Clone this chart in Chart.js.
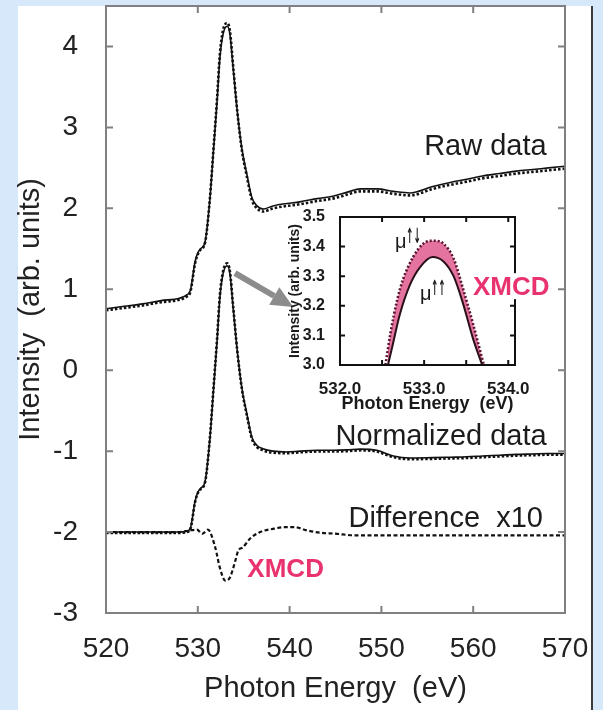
<!DOCTYPE html>
<html>
<head>
<meta charset="utf-8">
<script src="https://cdn.jsdelivr.net/npm/chart.js@4.4.1/dist/chart.umd.min.js"></script>
<style>
  html, body { margin: 0; padding: 0; background: #d6e8fa; }
  #wrap { position: relative; width: 603px; height: 710px; }
  #main { position: absolute; left: 0; top: 0; }
  #inset { position: absolute; left: 285px; top: 198px; }
</style>
</head>
<body>
<div id="wrap">
  <canvas id="main" width="603" height="710"></canvas>
  <canvas id="inset" width="275" height="222"></canvas>
</div>
<script>
/* ---------- data ---------- */
var energy   = [520, 522, 524, 526, 528, 528.8, 529.2, 529.7, 530.0, 530.3, 530.8, 531.3, 531.7, 532.1, 532.4, 532.75,
                533.2, 533.5, 533.85, 534.3, 534.8, 535.35, 535.9, 536.45, 537.1, 538.2, 539.7, 541.1, 543, 544.7,
                546.3, 547.7, 549.5, 551.3, 553.1, 555.6, 557.5, 559.3, 561, 562.9, 564.7, 566.5, 568.2, 570];
var rawUp    = [0.76, 0.79, 0.82, 0.86, 0.89, 0.93, 0.99, 1.34, 1.45, 1.50, 1.59, 2.09, 2.70, 3.32, 3.85, 4.15,
                4.25, 4.15, 3.73, 3.20, 2.74, 2.42, 2.13, 2.03, 1.99, 2.03, 2.06, 2.08, 2.12, 2.15,
                2.20, 2.24, 2.24, 2.21, 2.19, 2.27, 2.32, 2.36, 2.40, 2.43, 2.46, 2.48, 2.50, 2.52];
var rawDown  = [0.74, 0.77, 0.80, 0.84, 0.87, 0.91, 0.97, 1.32, 1.43, 1.49, 1.58, 2.10, 2.72, 3.36, 3.90, 4.20,
                4.29, 4.19, 3.76, 3.20, 2.72, 2.39, 2.10, 2.00, 1.96, 2.00, 2.03, 2.05, 2.09, 2.12,
                2.17, 2.21, 2.21, 2.18, 2.16, 2.24, 2.29, 2.33, 2.37, 2.40, 2.43, 2.45, 2.47, 2.49];
var normUp   = [-2.0, -2.0, -2.0, -2.0, -2.0, -1.99, -1.95, -1.62, -1.51, -1.46, -1.37, -0.87, -0.26, 0.36, 0.89, 1.19,
                1.29, 1.19, 0.77, 0.24, -0.22, -0.54, -0.83, -0.93, -0.97, -1.0, -1.01, -1.0, -0.99, -0.99,
                -0.985, -0.975, -0.99, -1.06, -1.085, -1.08, -1.075, -1.07, -1.06, -1.05, -1.04, -1.035, -1.03, -1.03];
var normDown = [-2.01, -2.01, -2.01, -2.01, -2.01, -2.0, -1.96, -1.63, -1.52, -1.47, -1.38, -0.86, -0.24, 0.39, 0.92, 1.22,
                1.32, 1.22, 0.79, 0.24, -0.23, -0.56, -0.85, -0.95, -0.99, -1.02, -1.025, -1.015, -1.005, -1.005,
                -1.0, -0.99, -1.005, -1.075, -1.10, -1.095, -1.09, -1.085, -1.075, -1.065, -1.055, -1.05, -1.045, -1.045];

var diffEnergy = [520, 524, 528, 529.1, 529.9, 530.5, 531.1, 531.9, 532.4, 533.0, 533.5, 534.1, 534.4, 534.9,
                  535.7, 536.8, 538.2, 539.5, 540.6, 541.9, 543.5, 545, 547, 550, 555, 560, 565, 570];
var diffX10    = [-2.0, -2.0, -2.0, -1.98, -1.97, -2.02, -1.97, -2.19, -2.44, -2.60, -2.56, -2.35, -2.23, -2.19,
                  -2.08, -2.0, -1.96, -1.94, -1.94, -1.98, -2.01, -2.02, -2.04, -2.04, -2.04, -2.04, -2.04, -2.04];

// inset: zoom on the peak, mu(up,down) above mu(up,up)
var insetEnergyAnti = [532.54, 532.60, 532.68, 532.75, 532.87, 532.99, 533.11, 533.23, 533.35, 533.46, 533.58, 533.71];
var insetAnti       = [3.00, 3.108, 3.22, 3.29, 3.365, 3.41, 3.42, 3.41, 3.36, 3.26, 3.14, 3.00];
var insetEnergyPar  = [532.57, 532.62, 532.71, 532.83, 532.95, 533.10, 533.23, 533.35, 533.46, 533.58, 533.69];
var insetPar        = [3.00, 3.06, 3.17, 3.27, 3.33, 3.365, 3.35, 3.30, 3.21, 3.09, 3.00];

var FONT = '"Liberation Sans", Arial, Helvetica, sans-serif';
var PINK = '#e8336f';

function pts(xs, ys) {
    return xs.map(function (x, i) { return { x: x, y: ys[i] }; });
}

/* ---------- shared plugins ---------- */
// box frame with inward ticks on all four sides
function framePlugin(color, width, len) {
    return {
        id: 'frame',
        afterDatasetsDraw: function (chart) {
            var a = chart.chartArea, ctx = chart.ctx;
            var xs = chart.scales.x, ys = chart.scales.y;
            ctx.save();
            ctx.strokeStyle = color;
            ctx.lineWidth = width;
            ctx.beginPath();
            xs.ticks.forEach(function (t) {
                var px = xs.getPixelForValue(t.value);
                ctx.moveTo(px, a.bottom); ctx.lineTo(px, a.bottom - len);
                ctx.moveTo(px, a.top);    ctx.lineTo(px, a.top + len);
            });
            ys.ticks.forEach(function (t) {
                var py = ys.getPixelForValue(t.value);
                ctx.moveTo(a.left, py);  ctx.lineTo(a.left + len, py);
                ctx.moveTo(a.right, py); ctx.lineTo(a.right - len, py);
            });
            ctx.stroke();
            ctx.strokeRect(a.left, a.top, a.right - a.left, a.bottom - a.top);
            ctx.restore();
        }
    };
}

// keep the plot box where the figure has it (no extra room for half labels)
function noPad(s) {
    s.paddingTop = 0;
    s.paddingBottom = 0;
}

/* ---------- main chart ---------- */
var pagePlugin = {
    id: 'page',
    beforeDraw: function (chart) {
        var ctx = chart.ctx;
        ctx.save();
        ctx.fillStyle = '#d6e8fa';
        ctx.fillRect(0, 0, chart.width, chart.height);
        ctx.fillStyle = '#ffffff';
        ctx.fillRect(18, 6, 574, chart.height - 6);
        ctx.fillStyle = '#3a3a3a';
        ctx.fillRect(591, 6, 2, chart.height - 6);
        ctx.restore();
    }
};

var mainLabels = [
    { text: 'Raw data',         x: 568.0, y: 2.656,  align: 'right', font: '29px ' + FONT, color: '#1c1c1c' },
    { text: 'Normalized data',  x: 568.0, y: -0.93,  align: 'right', font: '29px ' + FONT, color: '#1c1c1c' },
    { text: 'Difference  x10',  x: 567.6, y: -1.943, align: 'right', font: '29px ' + FONT, color: '#1c1c1c' },
    { text: 'XMCD',             x: 535.4, y: -2.56,  align: 'left',  font: 'bold 26px ' + FONT, color: PINK }
];
var arrowFrom = { x: 534.05, y: 1.20 };
var arrowTo   = { x: 540.4,  y: 0.78 };

var notesPlugin = {
    id: 'notes',
    afterDraw: function (chart) {
        var ctx = chart.ctx, xs = chart.scales.x, ys = chart.scales.y;
        ctx.save();
        ctx.textBaseline = 'alphabetic';
        mainLabels.forEach(function (l) {
            ctx.font = l.font;
            ctx.fillStyle = l.color;
            ctx.textAlign = l.align;
            ctx.fillText(l.text, xs.getPixelForValue(l.x), ys.getPixelForValue(l.y));
        });
        // grey arrow pointing to the inset
        var x0 = xs.getPixelForValue(arrowFrom.x), y0 = ys.getPixelForValue(arrowFrom.y);
        var x1 = xs.getPixelForValue(arrowTo.x),   y1 = ys.getPixelForValue(arrowTo.y);
        var ang = Math.atan2(y1 - y0, x1 - x0), head = 22, half = 10;
        var bx = x1 - head * Math.cos(ang), by = y1 - head * Math.sin(ang);
        ctx.strokeStyle = '#8c8c8c';
        ctx.fillStyle = '#8c8c8c';
        ctx.lineWidth = 6;
        ctx.beginPath();
        ctx.moveTo(x0, y0); ctx.lineTo(bx, by);
        ctx.stroke();
        ctx.beginPath();
        ctx.moveTo(x1, y1);
        ctx.lineTo(bx + half * Math.sin(ang), by - half * Math.cos(ang));
        ctx.lineTo(bx - half * Math.sin(ang), by + half * Math.cos(ang));
        ctx.closePath();
        ctx.fill();
        ctx.restore();
    }
};

function line(data, opts) {
    var ds = {
        data: data,
        borderColor: '#111',
        borderWidth: 1.6,
        pointRadius: 0,
        fill: false,
        cubicInterpolationMode: 'monotone'
    };
    for (var k in opts) ds[k] = opts[k];
    return ds;
}

new Chart(document.getElementById('main'), {
    type: 'line',
    data: {
        datasets: [
            line(pts(energy, rawUp)),
            line(pts(energy, rawDown), { borderWidth: 2.6, borderDash: [2.5, 2] }),
            line(pts(energy, normUp)),
            line(pts(energy, normDown), { borderWidth: 2.6, borderDash: [2.5, 2] }),
            line(pts(diffEnergy, diffX10), { borderWidth: 2.2, borderDash: [4, 2.5] })
        ]
    },
    options: {
        responsive: false,
        animation: false,
        layout: { padding: { left: 0, top: 6, right: 38, bottom: 0 } },
        plugins: { legend: { display: false }, tooltip: { enabled: false } },
        scales: {
            x: {
                type: 'linear', min: 520, max: 570,
                grid: { display: false }, border: { display: false },
                ticks: { stepSize: 10, includeBounds: false, padding: 11, color: '#222',
                         font: { family: FONT, size: 28 }, maxRotation: 0 },
                title: { display: true, text: 'Photon Energy  (eV)', color: '#222',
                         font: { family: FONT, size: 29 }, padding: { top: 0, bottom: 4 } },
                afterFit: function (s) { s.height = 97; }
            },
            y: {
                type: 'linear', min: -3, max: 4.5,
                grid: { display: false }, border: { display: false },
                ticks: { stepSize: 1, includeBounds: false, padding: 20, color: '#222',
                         font: { family: FONT, size: 28 } },
                title: { display: true, text: 'Intensity  (arb. units)', color: '#222',
                         font: { family: FONT, size: 29 }, padding: { top: 14, bottom: 0 } },
                afterFit: function (s) { s.width = 106; noPad(s); }
            }
        }
    },
    plugins: [pagePlugin, framePlugin('#808080', 2, 7), notesPlugin]
});

/* ---------- inset ---------- */
var muLabels = [
    { x: 532.655, y: 3.395, arrows: '\u2191\u2193' },
    { x: 532.95,  y: 3.22,  arrows: '\u2191\u2191' }
];

var insetNotes = {
    id: 'insetNotes',
    afterDraw: function (chart) {
        var ctx = chart.ctx, xs = chart.scales.x, ys = chart.scales.y;
        ctx.save();
        ctx.fillStyle = '#1a1a1a';
        ctx.textAlign = 'left';
        ctx.textBaseline = 'alphabetic';
        muLabels.forEach(function (m) {
            var px = xs.getPixelForValue(m.x), py = ys.getPixelForValue(m.y);
            ctx.font = '20px ' + FONT;
            ctx.fillText('\u03bc', px, py);
            // tall, narrow superscript spin arrows
            ctx.save();
            ctx.translate(px + 11, py - 5);
            ctx.scale(0.42, 1);
            ctx.font = 'bold 21px "DejaVu Sans", sans-serif';
            ctx.fillText(m.arrows, 0, 0);
            ctx.restore();
        });
        // XMCD tag over the right edge of the inset
        var tx = xs.getPixelForValue(533.58), ty = ys.getPixelForValue(3.236);
        ctx.font = 'bold 26px ' + FONT;
        var w = ctx.measureText('XMCD').width;
        ctx.fillStyle = '#ffffff';
        ctx.fillRect(tx - 2, ty - 22, w + 4, 26);
        ctx.fillStyle = PINK;
        ctx.fillText('XMCD', tx, ty);
        ctx.restore();
    }
};

new Chart(document.getElementById('inset'), {
    type: 'line',
    data: {
        datasets: [
            line(pts(insetEnergyPar, insetPar), { borderColor: '#2a1018', borderWidth: 2 }),
            line(pts(insetEnergyAnti, insetAnti), { borderColor: '#5c1530', borderWidth: 2.6,
                 borderDash: [2, 2], fill: '-1', backgroundColor: '#e5739f' })
        ]
    },
    options: {
        responsive: false,
        animation: false,
        layout: { padding: { left: 0, top: 19, right: 45, bottom: 0 } },
        plugins: { legend: { display: false }, tooltip: { enabled: false } },
        scales: {
            x: {
                type: 'linear', min: 532.0, max: 534.08,
                grid: { display: false }, border: { display: false },
                ticks: { stepSize: 0.5, includeBounds: false, autoSkip: false, maxRotation: 0, padding: 6,
                         color: '#1a1a1a', font: { family: FONT, size: 17, weight: 'bold' },
                         callback: function (v) { return Math.abs(v - Math.round(v)) < 1e-6 ? v.toFixed(1) : ''; } },
                title: { display: true, text: 'Photon Energy  (eV)', color: '#1a1a1a',
                         font: { family: FONT, size: 18, weight: 'bold' }, padding: { top: 0, bottom: 5 } },
                afterFit: function (s) { s.height = 55; }
            },
            y: {
                type: 'linear', min: 3.0, max: 3.5,
                grid: { display: false }, border: { display: false },
                ticks: { stepSize: 0.1, includeBounds: false, padding: 7, color: '#1a1a1a',
                         font: { family: FONT, size: 16, weight: 'bold' },
                         callback: function (v) { return v.toFixed(1); } },
                title: { display: true, text: 'Intensity (arb. units)', color: '#1a1a1a',
                         font: { family: FONT, size: 14, weight: 'bold' }, padding: { top: 2, bottom: 0 } },
                afterFit: function (s) { s.width = 55; noPad(s); }
            }
        }
    },
    plugins: [framePlugin('#111', 2, 5), insetNotes]
});
</script>
</body>
</html>
